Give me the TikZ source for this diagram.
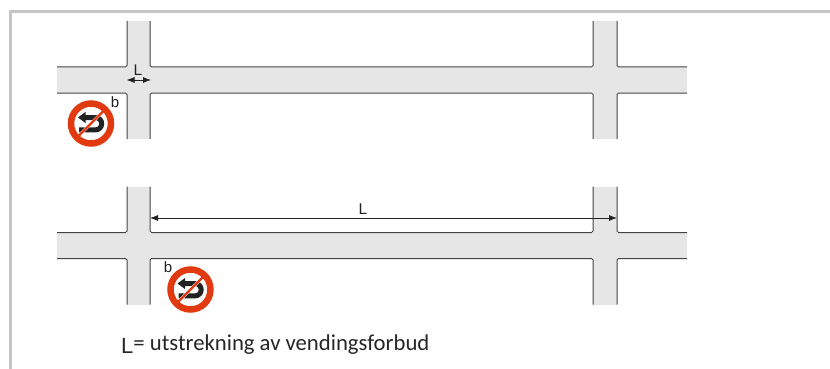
\documentclass[tikz,border=0pt]{standalone}
\usepackage{fontspec}
\setmainfont{Liberation Sans}
\newfontfamily\captionfont{Carlito}
\usetikzlibrary{arrows.meta}
\definecolor{roadgrey}{HTML}{E6E6E6}
\definecolor{edgegrey}{HTML}{444444}
\definecolor{framegrey}{HTML}{C4C4C6}
\definecolor{signred}{HTML}{E23A10}
\definecolor{symbolblack}{HTML}{222222}
\tikzset{
  roadedge/.style={draw=edgegrey,line width=1pt,rounded corners=1.5pt},
  roadfill/.style={fill=roadgrey,draw=none},
  dimline/.style={draw=symbolblack,line width=.8pt,{Latex[length=8pt,width=6pt]}-{Latex[length=8pt,width=6pt]}},
  dimlabel/.style={inner sep=0pt,font=\fontsize{15.5}{15.5}\selectfont,text=symbolblack},
  smalllabel/.style={inner sep=0pt,font=\fontsize{15}{15}\selectfont,text=symbolblack},
  captionlabel/.style={inner sep=0pt,anchor=base west,text=black!85},
  pics/roadnet/.style={code={
    \fill[roadfill] (57,67) rectangle (687,93);
    \fill[roadfill] (127,21) rectangle (150,139);
    \fill[roadfill] (593,21) rectangle (617,139);
    \path[roadedge] (57,67) -- (127,67) -- (127,21);
    \path[roadedge] (150,21) -- (150,67) -- (593,67) -- (593,21);
    \path[roadedge] (617,21) -- (617,67) -- (687,67);
    \path[roadedge] (57,93) -- (127,93) -- (127,139);
    \path[roadedge] (150,139) -- (150,93) -- (593,93) -- (593,139);
    \path[roadedge] (617,139) -- (617,93) -- (687,93);
  }},
  pics/noturn/.style={code={
    \fill[white] (0,0) circle (21);
    \draw[symbolblack,line width=5pt] (-7,-6) -- (4.5,-6) arc[start angle=-90,end angle=90,radius=6.2] -- (-12,6.4);
    \fill[symbolblack] (-13,-6) -- (-5.5,-11.5) -- (-5.5,-.5) -- cycle;
    \draw[white,line width=3pt] (-12,12) -- (12,-12);
    \draw[signred,line width=2.2pt] (-14,14) -- (14,-14);
    \draw[signred,line width=6.5pt] (0,0) circle (20);
  }}
}
\begin{document}
\begin{tikzpicture}[x=1pt,y=-1pt]
\useasboundingbox (0,0) rectangle (830,369);
% page frame
\draw[framegrey,line width=3pt] (10.5,369) -- (10.5,11.5) -- (830,11.5);
% road networks
\pic {roadnet};
\begin{scope}[yshift=-165.5pt]
\pic {roadnet};
\end{scope}
% dimension ends
\coordinate (ta) at (126.5,80);
\coordinate (tb) at (151,80);
\coordinate (ba) at (150,218);
\coordinate (bb) at (617,218);
\draw[dimline] (ta) -- (tb);
\draw[dimline] (ba) -- (bb);
\node[dimlabel] (ltop) at (138,70) {L};
\node[dimlabel] (lbot) at (363,209) {L};
% signs
\pic at (91,123.5) {noturn};
\pic at (190.5,289.5) {noturn};
\node[smalllabel] (btop) at (115,102) {b};
\node[smalllabel] (bbot) at (168,267) {b};
% caption
\node[captionlabel] (cap) at (121,353) {\fontsize{22}{22}\selectfont L\raisebox{3pt}{\fontsize{22.7}{22.7}\captionfont= utstrekning av vendingsforbud}};
\end{tikzpicture}
\end{document}
